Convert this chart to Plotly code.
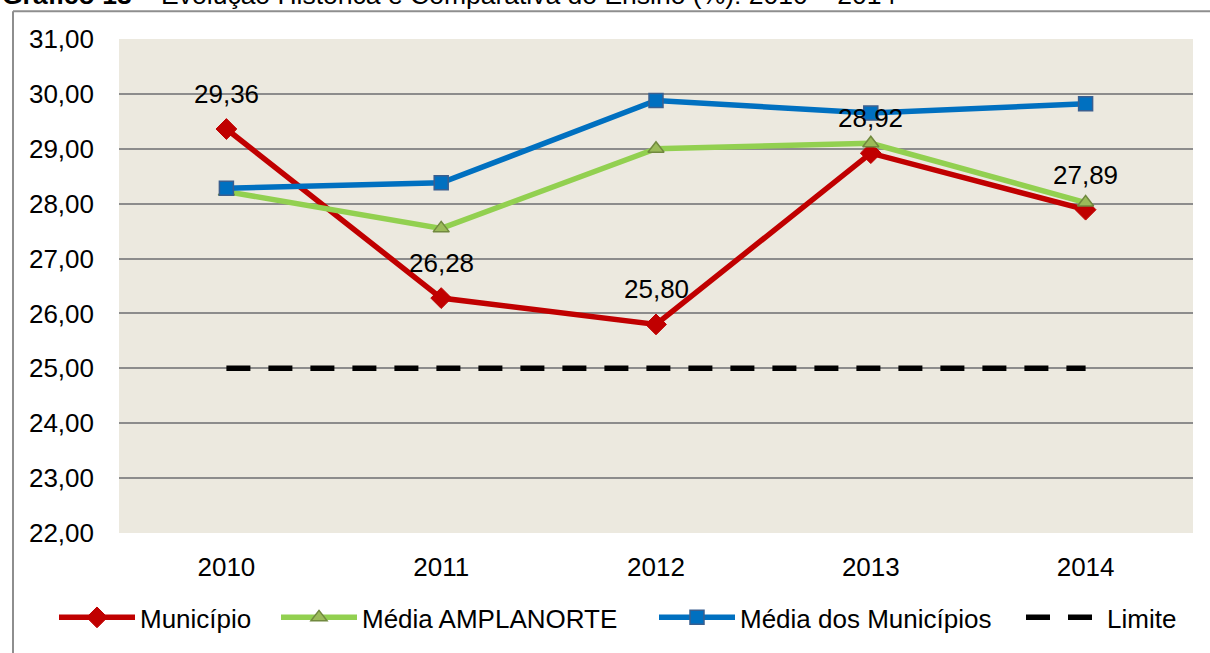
import plotly.graph_objects as go

years = ["2010", "2011", "2012", "2013", "2014"]
municipio = [29.36, 26.28, 25.80, 28.92, 27.89]
media_amplanorte = [28.22, 27.55, 29.00, 29.10, 28.02]
media_municipios = [28.28, 28.38, 29.88, 29.65, 29.82]
limite = [25.00, 25.00, 25.00, 25.00, 25.00]
y_ticks = [22, 23, 24, 25, 26, 27, 28, 29, 30, 31]

FONT = "Liberation Sans, Arial, sans-serif"
ITEMW = 76

fig = go.Figure()
fig.add_trace(go.Scatter(
    x=years, y=municipio, name="Município", mode="lines+markers", legend="legend",
    line=dict(color="#C00000", width=5.5),
    marker=dict(symbol="diamond", size=16, color="#C00000", line=dict(color="#C00000", width=1)),
))
fig.add_trace(go.Scatter(
    x=years, y=media_amplanorte, name="Média AMPLANORTE", mode="lines+markers", legend="legend2",
    line=dict(color="#92D050", width=5.5),
    marker=dict(symbol="triangle-up", size=14, color="#9BBB59", line=dict(color="#71893F", width=1.5)),
))
fig.add_trace(go.Scatter(
    x=years, y=media_municipios, name="Média dos Municípios", mode="lines+markers", legend="legend3",
    line=dict(color="#0070C0", width=5.5),
    marker=dict(symbol="square", size=14, color="#0070C0", line=dict(color="#3A5F8F", width=1.5)),
))
fig.add_trace(go.Scatter(
    x=years, y=limite, name="Limite", mode="lines", legend="legend4",
    line=dict(color="#000000", width=5.5, dash="24px,18px"),
))

for i, v in enumerate(municipio):
    fig.add_annotation(
        x=i, y=v, text=f"{v:.2f}".replace(".", ","), showarrow=False,
        yshift=35, yanchor="middle", xanchor="center",
        font=dict(family=FONT, size=26, color="#000000"),
    )

# Title (partially cut off at the top in the reference)
fig.add_annotation(
    xref="paper", yref="paper", x=(0 - 119) / 1074, y=(536 + 5) / 497,
    xanchor="left", yanchor="middle", showarrow=False,
    text="<b>Gráfico 13</b> – Evolução Histórica e Comparativa do Ensino (%): 2010 – 2014",
    font=dict(family=FONT, size=26.5, color="#000000"),
)

# Outer chart frame
fx0 = (13 - 119) / 1074
fy0 = (536 - 11) / 497
fig.add_shape(type="line", xref="paper", yref="paper", x0=fx0, x1=1.2, y0=fy0, y1=fy0,
              line=dict(color="#8E8E8E", width=2), layer="above")
fig.add_shape(type="line", xref="paper", yref="paper", x0=fx0, x1=fx0, y0=fy0, y1=-0.4,
              line=dict(color="#8E8E8E", width=2), layer="above")


def leg(text_x):
    return dict(
        orientation="h", x=(text_x - (ITEMW + 10) - 119) / 1074, xanchor="left",
        y=-0.171, yanchor="middle",
        font=dict(family=FONT, size=26, color="#000000"),
        bgcolor="rgba(0,0,0,0)", itemwidth=ITEMW,
    )


fig.update_layout(
    width=1210, height=653,
    margin=dict(l=119, r=17, t=39, b=117),
    paper_bgcolor="#FFFFFF",
    plot_bgcolor="#ECE9DF",
    separators=", ",
    font=dict(family=FONT, size=26, color="#000000"),
    showlegend=True,
    legend=leg(140),
    legend2=leg(362),
    legend3=leg(740),
    legend4=leg(1107),
    xaxis=dict(
        type="category", range=[-0.5, 4.5], showgrid=False, zeroline=False,
        showline=False, ticks="", ticklabelstandoff=16,
        tickfont=dict(family=FONT, size=26, color="#000000"),
    ),
    yaxis=dict(
        range=[22, 31], tickvals=y_ticks, tickformat=".2f",
        showgrid=True, gridcolor="#8C8C8C", gridwidth=2, zeroline=False,
        showline=False, ticks="", ticklabelstandoff=24,
        tickfont=dict(family=FONT, size=26, color="#000000"),
    ),
)

fig.write_html("out.html")
